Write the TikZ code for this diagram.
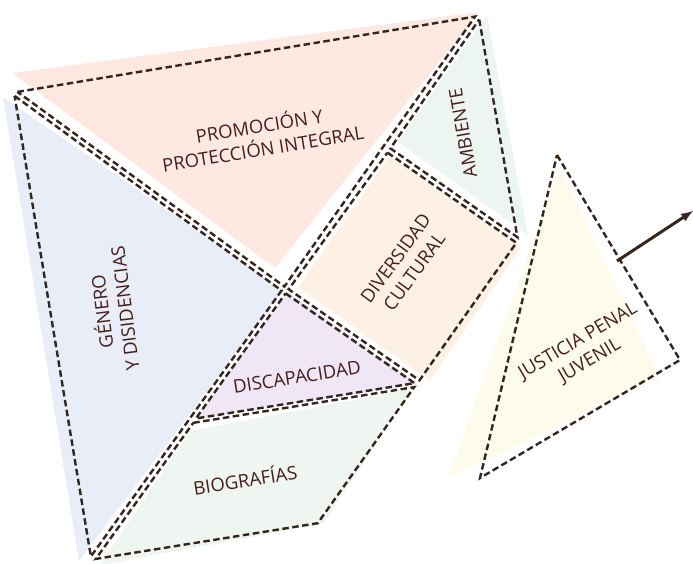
\documentclass[tikz,border=0pt]{standalone}
\usepackage{fontspec}
\setmainfont{Open Sans}
\usetikzlibrary{calc}
\definecolor{cutline}{HTML}{35251F}
\definecolor{ink}{HTML}{481E1B}
\definecolor{promo}{HTML}{FDE9E1}
\definecolor{genero}{HTML}{E9EDF8}
\definecolor{ambiente}{HTML}{EDF5F3}
\definecolor{diversidad}{HTML}{FDF1E6}
\definecolor{discap}{HTML}{EFE7F5}
\definecolor{biograf}{HTML}{EFF5F0}
\definecolor{justicia}{HTML}{FDFBEC}
\tikzset{
	cut/.style={draw=cutline, line width=2.4pt, dash pattern=on 6.5pt off 3.5pt},
	lbl/.style={text=ink, font=\fontsize{18.5}{23}\selectfont, align=center, inner sep=0pt},
}
\begin{document}
\begin{tikzpicture}[x=1pt, y=-1pt, >=latex]
	\useasboundingbox (0,0) rectangle (693,563);
	\path
		(12,91) coordinate (P1)
		(480,14) coordinate (P2)
		(285,290) coordinate (P3)
		(387,149) coordinate (P4)
		(520,242) coordinate (P5)
		(420,384) coordinate (P6)
		(191,421) coordinate (P7)
		(320,525) coordinate (P8)
		(90,562) coordinate (P9)
		(557,155) coordinate (J1)
		(680,360) coordinate (J2)
		(480,478) coordinate (J3)
		(617,261) coordinate (jout)
		(693,211) coordinate (far)
	;
	% centres of the pieces
	\path
		(barycentric cs:P1=1,P2=1,P3=1) coordinate (cT)
		(barycentric cs:P1=1,P3=1,P9=1) coordinate (cL)
		(barycentric cs:P2=1,P5=1,P4=1) coordinate (cA)
		(barycentric cs:P4=1,P5=1,P6=1,P3=1) coordinate (cS)
		(barycentric cs:P3=1,P6=1,P7=1) coordinate (cD)
		(barycentric cs:P7=1,P6=1,P8=1,P9=1) coordinate (cB)
	;

	% colour under the pieces
	\fill[promo] (12,73) -- (479,12) -- (275,268) -- cycle;
	\fill[genero] (3,97) -- (283,290) -- (79,561) -- cycle;
	\fill[ambiente] (487,15) -- (528,235) -- (398,142) -- cycle;
	\fill[diversidad] (298,287) -- (390,156) -- (521,247) -- (430,381) -- cycle;
	\fill[discap] (288,292) -- (418,384) -- (196,419) -- cycle;
	\fill[biograf] (190,431) -- (412,389) -- (323,524) -- (100,565) -- cycle;
	\fill[justicia] (560,167) -- (660,378) -- (448,478) -- cycle;

	% cut lines
	\draw[cut] ($(cT)!.978!(P1)$) -- ($(cT)!.978!(P2)$) -- ($(cT)!.978!(P3)$) -- cycle;
	\draw[cut] ($(cL)!.978!(P1)$) -- ($(cL)!.978!(P3)$) -- ($(cL)!.978!(P9)$) -- cycle;
	\draw[cut] ($(cA)!.955!(P2)$) -- ($(cA)!.955!(P5)$) -- ($(cA)!.955!(P4)$) -- cycle;
	\draw[cut] ($(cS)!.969!(P4)$) -- ($(cS)!.969!(P5)$) -- ($(cS)!.969!(P6)$) -- ($(cS)!.969!(P3)$) -- cycle;
	\draw[cut] ($(cD)!.955!(P3)$) -- ($(cD)!.955!(P6)$) -- ($(cD)!.955!(P7)$) -- cycle;
	\draw[cut] ($(cB)!.965!(P7)$) -- ($(cB)!.965!(P6)$) -- ($(cB)!.965!(P8)$) -- ($(cB)!.965!(P9)$) -- cycle;
	\draw[cut] (J1) -- (J2) -- (J3) -- cycle;

	\draw[->, cutline, line width=3pt] (jout) -- (far);

	% labels
	\node[lbl, rotate=9.3] (promocion) at (261,136) {PROMOCIÓN Y\\PROTECCIÓN INTEGRAL};
	\node[lbl, rotate=97] (genero) at (112,310) {GÉNERO\\Y DISIDENCIAS};
	\node[lbl, rotate=100] (ambiente) at (463,133) {AMBIENTE};
	\node[lbl, rotate=54] (diversidad) at (405,265) {DIVERSIDAD\\CULTURAL};
	\node[lbl, rotate=9] (discapacidad) at (297,377) {DISCAPACIDAD};
	\node[lbl, rotate=9] (biografias) at (245,479) {BIOGRAFÍAS};
	\node[lbl, rotate=30.5] (justicia) at (584,351) {JUSTICIA PENAL\\JUVENIL};
\end{tikzpicture}
\end{document}
